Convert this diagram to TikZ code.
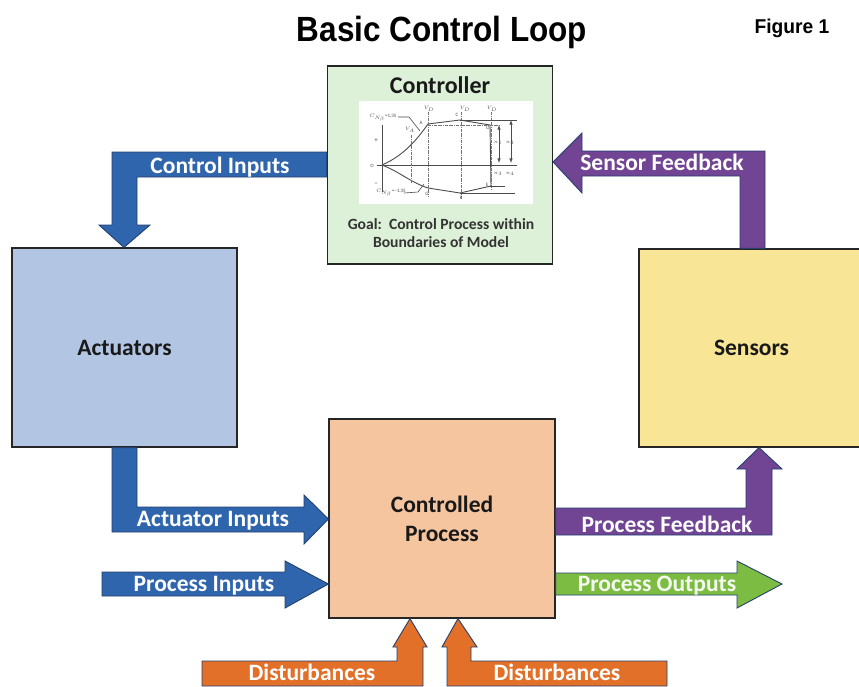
\documentclass[tikz,border=0pt]{standalone}
\usepackage{fontspec}
\setmainfont{Carlito}
\newfontfamily\titlefont[FakeStretch=0.9]{Liberation Sans}
\newfontfamily\figfont[FakeStretch=0.96]{Liberation Sans}
\usepackage{tikz}

\definecolor{ctrlgreen}{RGB}{221,240,216}
\definecolor{actblue}{RGB}{178,198,228}
\definecolor{senyellow}{RGB}{248,229,150}
\definecolor{procpeach}{RGB}{245,197,160}
\definecolor{fatblue}{RGB}{47,101,173}
\definecolor{fatpurple}{RGB}{113,68,148}
\definecolor{fatgreen}{RGB}{125,188,66}
\definecolor{fatorange}{RGB}{226,112,40}
\definecolor{edgeblue}{RGB}{36,64,110}

\tikzset{
	block/.style={draw=black!85,line width=1.2pt,inner sep=0pt,align=center,font=\bfseries\fontsize{23.5}{29}\selectfont,text=black!90},
	fat/.style={draw=edgeblue,line width=0.9pt,line join=miter},
	lbl/.style={font=\bfseries\fontsize{23.5}{26}\selectfont,text=white,inner sep=0pt},
	sketch/.style={line width=0.6pt,black!70},
	tick/.style={sketch,densely dashdotted,line width=0.4pt,black!55},
	tiny/.style={font=\fontsize{5}{6}\selectfont,black!70,inner sep=0pt},
}

\begin{document}
\begin{tikzpicture}[x=1pt,y=-1pt]
	\useasboundingbox (0,0) rectangle (859,686);
	
	% Draw title
	\node[font=\titlefont\bfseries\fontsize{35}{38}\selectfont] (Title) at (442,32) {Basic Control Loop};
	\node[font=\figfont\bfseries\fontsize{20}{22}\selectfont] (Fig) at (792,28) {Figure 1};
	
	% Draw nodes
	\node[block,fill=ctrlgreen,minimum width=225pt,minimum height=198pt] (Controller) at (440,165) {};
	\node[block,fill=actblue,minimum width=225pt,minimum height=199pt] (Actuators) at (124.5,347.5) {\raisebox{-2pt}{Actuators}};
	\node[block,fill=senyellow,minimum width=225pt,minimum height=198pt] (Sensors) at (751.5,348) {\raisebox{-2pt}{Sensors}};
	\node[block,fill=procpeach,minimum width=226pt,minimum height=199pt] (Process) at (442,518.5) {\raisebox{-2pt}{Controlled}\\\raisebox{-2pt}{Process}};
	\node[font=\bfseries\fontsize{24}{26}\selectfont,text=black!90] (CtrlName) at (440,85) {Controller};
	\node[fill=white,minimum width=174pt,minimum height=103pt,inner sep=0pt] (Chart) at (446,152.5) {};
	\node[font=\bfseries\fontsize{15.6}{18}\selectfont,text=black!80,align=center] (Goal) at (441,233) {Goal:\ \ Control Process within\\Boundaries of Model};
	
	% Draw chart in the controller
	\draw[sketch,line width=0.9pt] (382,125) -- (382,192);
	\draw[sketch] (377,165) -- (517,165);
	\draw[sketch,line width=0.9pt] (382,165) .. controls (405,155) and (418,138) .. (428,124) -- (460,120) -- (490,125) -- (491,186) -- (460,193) -- (428,188) .. controls (410,182) and (400,172) .. (382,165);
	\draw[tick] (428,112) -- (428,197);
	\draw[tick] (461,112) -- (461,200);
	\draw[tick] (491,112) -- (491,190);
	\draw[tick] (411,135) -- (411,183);
	\draw[tick] (428,125) -- (500,125);
	\draw[sketch] (460,120) -- (517,120);
	\draw[sketch] (460,193) -- (515,193);
	\draw[sketch] (490,186) -- (505,186);
	\draw[sketch,<->,>=latex] (499,125) -- (499,163);
	\draw[sketch,<->,>=latex] (511,120) -- (511,163);
	\draw[sketch] (398,117) -- (409,117) -- (420,131);
	\draw[sketch] (404,193) -- (418,192) -- (424,184);
	\node[tiny] (CnUp) at (383,118) {$C_{N_\beta}$=1.35};
	\node[tiny] (CnLo) at (391,193) {$C_{N_\beta}$=--1.35};
	\node[tiny] (VdA) at (429,109) {$V_D$};
	\node[tiny] (VdB) at (465,109) {$V_D$};
	\node[tiny] (VdC) at (492,109) {$V_D$};
	\node[tiny] (Va) at (410,130) {$V_A$};
	\node[tiny] (PtA) at (421,123) {A};
	\node[tiny] (PtC) at (457,115) {C};
	\node[tiny] (PtD) at (488,128) {D};
	\node[tiny] (PtE) at (487,185) {E};
	\node[tiny] (PtG) at (427,194) {G};
	\node[tiny] (PtF) at (461,198) {F};
	\node[tiny] (PtO) at (372,165.5) {O};
	\node[tiny,font=\fontsize{7}{8}\selectfont] (Plus) at (376,141) {+};
	\node[tiny,font=\fontsize{7}{8}\selectfont] (Minus) at (376,184) {--};
	\node[tiny] (NA) at (498,143) {$n_1$};
	\node[tiny] (NB) at (510,143) {$n_2$};
	\node[tiny] (NC) at (498,174) {$n_3$};
	\node[tiny] (ND) at (510,174) {$n_4$};
	
	% Draw block arrows, blue ones
	\draw[fat,fill=fatblue] (Controller.west |- 0,152) -- (112,152) -- (112,225) -- (99,225) -- (Actuators.north -| 124,0) -- (150,225) -- (137,225) -- (137,177) -- (Controller.west |- 0,177) -- cycle;
	\draw[fat,fill=fatblue] (112,0 |- Actuators.south) -- (112,532) -- (304,532) -- (304,544) -- (Process.west |- 0,519) -- (304,495) -- (304,507) -- (137,507) -- (137,0 |- Actuators.south) -- cycle;
	\draw[fat,fill=fatblue] (102,572) -- (285,572) -- (285,561) -- (Process.west |- 0,584) -- (285,608) -- (285,596) -- (102,596) -- cycle;
	
	% Draw block arrows, purple ones
	\draw[fat,fill=fatpurple] (765,0 |- Sensors.north) -- (765,151) -- (582,151) -- (582,133) -- (Controller.east |- 0,162) -- (582,193) -- (582,176) -- (740,176) -- (740,0 |- Sensors.north) -- cycle;
	\draw[fat,fill=fatpurple] (Process.east |- 0,508) -- (746,508) -- (746,469) -- (737,469) -- (Sensors.south -| 759,0) -- (782,469) -- (772,469) -- (772,535) -- (Process.east |- 0,535) -- cycle;
	
	% Draw block arrows, the rest
	\draw[fat,fill=fatgreen] (Process.east |- 0,573) -- (737,573) -- (737,561) -- (782,584) -- (737,608) -- (737,595) -- (Process.east |- 0,595) -- cycle;
	\draw[fat,fill=fatorange] (202,686) -- (202,661) -- (397,661) -- (397,647) -- (393,647) -- (Process.south -| 410,0) -- (427,647) -- (423,647) -- (423,686) -- cycle;
	\draw[fat,fill=fatorange] (667,686) -- (667,661) -- (471,661) -- (471,647) -- (477,647) -- (Process.south -| 458,0) -- (442,647) -- (447,647) -- (447,686) -- cycle;
	
	% Draw labels on the arrows
	\node[lbl] (CtrlIn) at (220,167) {Control Inputs};
	\node[lbl] (ActIn) at (213,521) {Actuator Inputs};
	\node[lbl] (ProcIn) at (204,586) {Process Inputs};
	\node[lbl] (SenFb) at (662,162) {Sensor Feedback};
	\node[lbl] (ProcFb) at (667,524) {Process Feedback};
	\node[lbl,text=white!92!fatgreen] (ProcOut) at (657,586) {Process Outputs};
	\node[lbl] (DistA) at (312,672.5) {Disturbances};
	\node[lbl] (DistB) at (557,672.5) {Disturbances};
	
\end{tikzpicture}
\end{document}
